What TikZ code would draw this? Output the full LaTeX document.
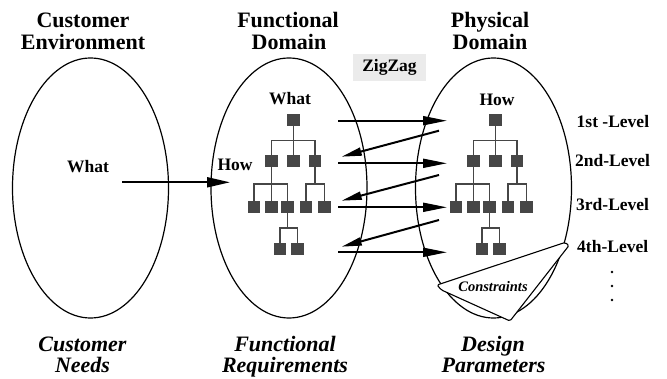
\documentclass[tikz,border=0pt]{standalone}
\usepackage{fontspec}
\setmainfont{Liberation Serif}
\usetikzlibrary{shapes.geometric,arrows.meta,calc}
\definecolor{boxgray}{RGB}{70,70,70}
\definecolor{zzgray}{RGB}{235,235,235}
\newcommand\mytree[1]{%
  \node[frbox] (#1a) at (0,0) {};
  \node[frbox] (#1b) at (-22,41) {};
  \node[frbox] (#1c) at (0,41) {};
  \node[frbox] (#1d) at (21.5,41) {};
  \node[frbox] (#1e) at (-39.5,87) {};
  \node[frbox] (#1f) at (-22,87) {};
  \node[frbox] (#1g) at (-6,87) {};
  \node[frbox] (#1h) at (12.5,87) {};
  \node[frbox] (#1i) at (31,87) {};
  \node[frbox] (#1j) at (-13.5,129) {};
  \node[frbox] (#1k) at (4,129) {};
  \draw[treeline] (#1a.south) to[fork] (#1b.north);
  \draw[treeline] (#1a.south) to[fork] (#1c.north);
  \draw[treeline] (#1a.south) to[fork] (#1d.north);
  \draw[treeline] (#1b.south) to[fork] (#1e.north);
  \draw[treeline] (#1b.south) to[fork] (#1f.north);
  \draw[treeline] (#1b.south) to[fork] (#1g.north);
  \draw[treeline] (#1d.south) to[fork] (#1h.north);
  \draw[treeline] (#1d.south) to[fork] (#1i.north);
  \draw[treeline] (#1g.south) to[fork] (#1j.north);
  \draw[treeline] (#1g.south) to[fork] (#1k.north);
}
\begin{document}
\begin{tikzpicture}[x=1pt,y=-1pt,
  title/.style={font=\fontsize{22}{23}\selectfont\bfseries, anchor=base, inner sep=0},
  subtitle/.style={font=\fontsize{22}{23}\selectfont\bfseries\itshape, anchor=base, inner sep=0},
  lbl/.style={font=\fontsize{17.5}{20}\selectfont\bfseries, anchor=base, inner sep=0},
  lvl/.style={lbl, anchor=base west},
  dom/.style={draw, ellipse, line width=1.2pt, minimum width=156pt, minimum height=260pt, inner sep=0},
  frbox/.style={draw=none, fill=boxgray, minimum size=12.5pt, inner sep=0},
  treeline/.style={draw=boxgray, line width=1.1pt},
  fork/.style={to path={(\tikztostart) |- ($(\tikztostart)!0.5!(\tikztotarget)$) -| (\tikztotarget)}},
  arr/.style={line width=2pt, -{Triangle[length=24pt,width=9pt]}},
  arrl/.style={line width=2pt, -{Triangle[length=20pt,width=8pt]}},
  ]
\useasboundingbox (0,0) rectangle (667,379);

% domains
\node[dom] (e1) at (90.5,188) {};
\node[dom] (e2) at (289,188) {};
\node[dom] (e3) at (493.5,188) {};

% constraints sheet
\draw[fill=white, line width=1.1pt, line join=round, rounded corners=1.5pt]
  (437,285) -- (565,242.5) -- (569,245.5) -- (510,321) -- (441.5,290) -- cycle;
\node[font=\fontsize{14.5}{16}\selectfont\bfseries\itshape, anchor=base, inner sep=0] (cons) at (493,291.5) {Constraints};

% titles
\node[title] (t1a) at (83,27.5) {Customer};
\node[title] (t1b) at (83,49.5) {Environment};
\node[title] (t2a) at (288,27.5) {Functional};
\node[title] (t2b) at (289,49.5) {Domain};
\node[title] (t3a) at (490,27.5) {Physical};
\node[title] (t3b) at (490,49.5) {Domain};

\node[subtitle] (b1a) at (82.5,351.5) {Customer};
\node[subtitle] (b1b) at (82.5,372.5) {Needs};
\node[subtitle] (b2a) at (285,351.5) {Functional};
\node[subtitle] (b2b) at (285,372.5) {Requirements};
\node[subtitle] (b3a) at (493,351.5) {Design};
\node[subtitle] (b3b) at (493.5,372.5) {Parameters};

% inner labels
\node[lbl] (w1) at (88,173) {What};
\node[lbl] (w2) at (290,105) {What};
\node[lbl] (h2) at (235,170.5) {How};
\node[lbl] (h3) at (497,106) {How};

% zigzag label
\node[fill=zzgray, minimum width=73pt, minimum height=27pt, inner sep=0,
      font=\fontsize{17.5}{20}\selectfont\bfseries] (zz) at (389.5,67.5) {ZigZag};

% level labels
\node[lvl] (l1) at (576.5,127.5) {1st -Level};
\node[lvl] (l2) at (575,167) {2nd-Level};
\node[lvl] (l3) at (576,211) {3rd-Level};
\node[lvl] (l4) at (577,252.5) {4th-Level};
\node[circle, fill, inner sep=0, minimum size=2.8pt] (d1) at (612,272) {};
\node[circle, fill, inner sep=0, minimum size=2.8pt] (d2) at (612,286) {};
\node[circle, fill, inner sep=0, minimum size=2.8pt] (d3) at (612,300) {};

% trees
\begin{scope}[shift={(293.5,120)}]
  \mytree{m}
\end{scope}
\begin{scope}[shift={(495.5,120)}]
  \mytree{p}
\end{scope}

% main arrow
\coordinate (ws) at (122,182.3);
\coordinate (we) at (230,182.3);
\draw[line width=2pt, -{Triangle[length=23pt,width=10pt]}] (ws) -- (we);

% zigzag arrows
\coordinate (r1s) at (338,120.7); \coordinate (r1e) at (447,120.7);
\coordinate (r2s) at (338,163.3); \coordinate (r2e) at (447,163.3);
\coordinate (r3s) at (338,207.3); \coordinate (r3e) at (447,207.3);
\coordinate (r4s) at (338,252.3); \coordinate (r4e) at (447,252.3);
\coordinate (q1s) at (439,130.7); \coordinate (q1e) at (341.7,156.7);
\coordinate (q2s) at (439,175);   \coordinate (q2e) at (341.7,200.7);
\coordinate (q3s) at (439,220);   \coordinate (q3e) at (341.7,246.7);
\draw[arr] (r1s) -- (r1e);
\draw[arr] (r2s) -- (r2e);
\draw[arr] (r3s) -- (r3e);
\draw[arr] (r4s) -- (r4e);
\draw[arrl] (q1s) -- (q1e);
\draw[arrl] (q2s) -- (q2e);
\draw[arrl] (q3s) -- (q3e);
\end{tikzpicture}
\end{document}
